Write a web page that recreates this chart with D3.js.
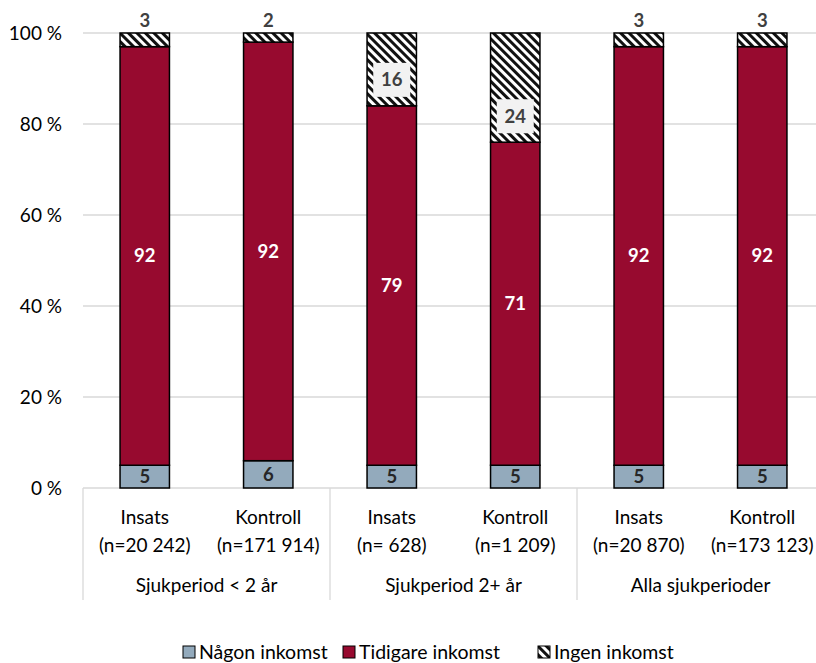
<!DOCTYPE html>
<html>
<head>
<meta charset="utf-8">
<script src="https://cdn.jsdelivr.net/npm/d3@7"></script>
<style>
  body { margin: 0; background: #fff; }
  svg { display: block; font-family: Lato, "Open Sans", sans-serif; }
</style>
</head>
<body>
<div id="chart"></div>
<script>
(() => {
    const width = 816, height = 663;

    // data
    const groups = ["Sjukperiod < 2 år", "Sjukperiod 2+ år", "Alla sjukperioder"];
    const arms = ["Insats", "Kontroll"];
    const sizes = ["(n=20 242)", "(n=171 914)", "(n= 628)", "(n=1 209)", "(n=20 870)", "(n=173 123)"];
    const series = ["Någon inkomst", "Tidigare inkomst", "Ingen inkomst"];
    const nagon = [5, 6, 5, 5, 5, 5];
    const tidigare = [92, 92, 79, 71, 92, 92];
    const ingen = [3, 2, 16, 24, 3, 3];
    const yTicks = [0, 20, 40, 60, 80, 100];

    const colors = ["#93aabc", "#970a2f", "url(#hatch)"];

    const cats = sizes.map((s, i) => ({ id: i, arm: arms[i % 2], n: s, group: groups[Math.floor(i / 2)] }));
    const rows = cats.map((c, i) => ({ ...c, v: [nagon[i], tidigare[i], ingen[i]] }));

    const x = d3.scaleBand()
        .domain(cats.map(c => c.id))
        .range([83, 824])
        .paddingInner(0.6)
        .paddingOuter(0.3);

    const y = d3.scaleLinear().domain([0, 100]).range([488, 33]);

    const svg = d3.select("#chart").append("svg")
        .attr("width", width)
        .attr("height", height);

    const defs = svg.append("defs");
    const pat = defs.append("pattern")
        .attr("id", "hatch")
        .attr("patternUnits", "userSpaceOnUse")
        .attr("width", 6)
        .attr("height", 6)
        .attr("patternTransform", "rotate(-45)");
    pat.append("rect").attr("width", 6).attr("height", 6).attr("fill", "#fff");
    pat.append("rect").attr("x", 0).attr("width", 3).attr("height", 6).attr("fill", "#111");

    // gridlines
    svg.append("g")
        .selectAll("line")
        .data(yTicks.filter(t => t > 0))
        .join("line")
        .attr("x1", 83).attr("x2", width)
        .attr("y1", d => y(d)).attr("y2", d => y(d))
        .attr("stroke", "#d9d9d9")
        .attr("stroke-width", 1.3);

    // y tick labels
    svg.append("g")
        .selectAll("text")
        .data(yTicks)
        .join("text")
        .attr("x", 62)
        .attr("y", d => y(d) + 6.5)
        .attr("text-anchor", "end")
        .attr("font-size", 19)
        .attr("fill", "#000")
        .text(d => `${d} %`);

    // category axis box
    const axis = svg.append("g").attr("stroke", "#d9d9d9").attr("stroke-width", 1.3);
    axis.append("line").attr("x1", 83).attr("x2", width).attr("y1", y(0)).attr("y2", y(0));
    axis.selectAll(".sep")
        .data(d3.range(groups.length + 1))
        .join("line")
        .attr("class", "sep")
        .attr("x1", i => x.range()[0] + i * x.step() * 2)
        .attr("x2", i => x.range()[0] + i * x.step() * 2)
        .attr("y1", y(0))
        .attr("y2", 600);

    // stacked bars
    const stack = rows.map(r => {
        let base = 0;
        return r.v.map((v, k) => {
            const seg = { id: r.id, k, v, y0: base, y1: base + v };
            base += v;
            return seg;
        });
    }).flat();

    svg.append("g")
        .selectAll("rect")
        .data(stack)
        .join("rect")
        .attr("x", d => x(d.id))
        .attr("width", x.bandwidth())
        .attr("y", d => y(d.y1))
        .attr("height", d => y(d.y0) - y(d.y1))
        .attr("fill", d => colors[d.k])
        .attr("stroke", "#000")
        .attr("stroke-width", 1.5);

    // value labels
    const lab = svg.append("g")
        .attr("font-weight", "bold")
        .attr("font-size", 18.5)
        .attr("text-anchor", "middle");

    stack.forEach(d => {
        const cx = x(d.id) + x.bandwidth() / 2;
        if (d.k === 2 && d.v < 10) {
            lab.append("text")
                .attr("x", cx).attr("y", y(100) - 6)
                .attr("fill", "#404040")
                .text(d.v);
        } else if (d.k === 2) {
            const cy = y(d.y0 + 5.7);
            lab.append("rect")
                .attr("x", cx - 18.5).attr("y", cy - 17)
                .attr("width", 37).attr("height", 34)
                .attr("fill", "#f2f2f2");
            lab.append("text")
                .attr("x", cx).attr("y", cy + 6.5)
                .attr("fill", "#404040")
                .text(d.v);
        } else {
            lab.append("text")
                .attr("x", cx).attr("y", y((d.y0 + d.y1) / 2) + 6.5)
                .attr("fill", d.k === 1 ? "#fff" : "#262626")
                .text(d.v);
        }
    });

    // category labels
    const cl = svg.append("g")
        .attr("font-size", 19)
        .attr("text-anchor", "middle")
        .attr("fill", "#000");
    cl.selectAll(".arm")
        .data(cats)
        .join("text")
        .attr("x", d => x(d.id) + x.bandwidth() / 2)
        .attr("y", 524)
        .text(d => d.arm);
    cl.selectAll(".n")
        .data(cats)
        .join("text")
        .attr("x", d => x(d.id) + x.bandwidth() / 2)
        .attr("y", 552)
        .text(d => d.n);
    cl.selectAll(".grp")
        .data(groups)
        .join("text")
        .attr("x", (d, i) => x.range()[0] + (i + 0.5) * x.step() * 2)
        .attr("y", 592)
        .text(d => d);

    // legend
    const legX = [183, 343, 538];
    const leg = svg.append("g");
    series.forEach((s, i) => {
        leg.append("rect")
            .attr("x", legX[i]).attr("y", 646)
            .attr("width", 12).attr("height", 12)
            .attr("fill", colors[i])
            .attr("stroke", "#000")
            .attr("stroke-width", 1);
        leg.append("text")
            .attr("x", legX[i] + 16).attr("y", 659)
            .attr("font-size", 19.5)
            .attr("fill", "#000")
            .text(s);
    });
})();
</script>
</body>
</html>
